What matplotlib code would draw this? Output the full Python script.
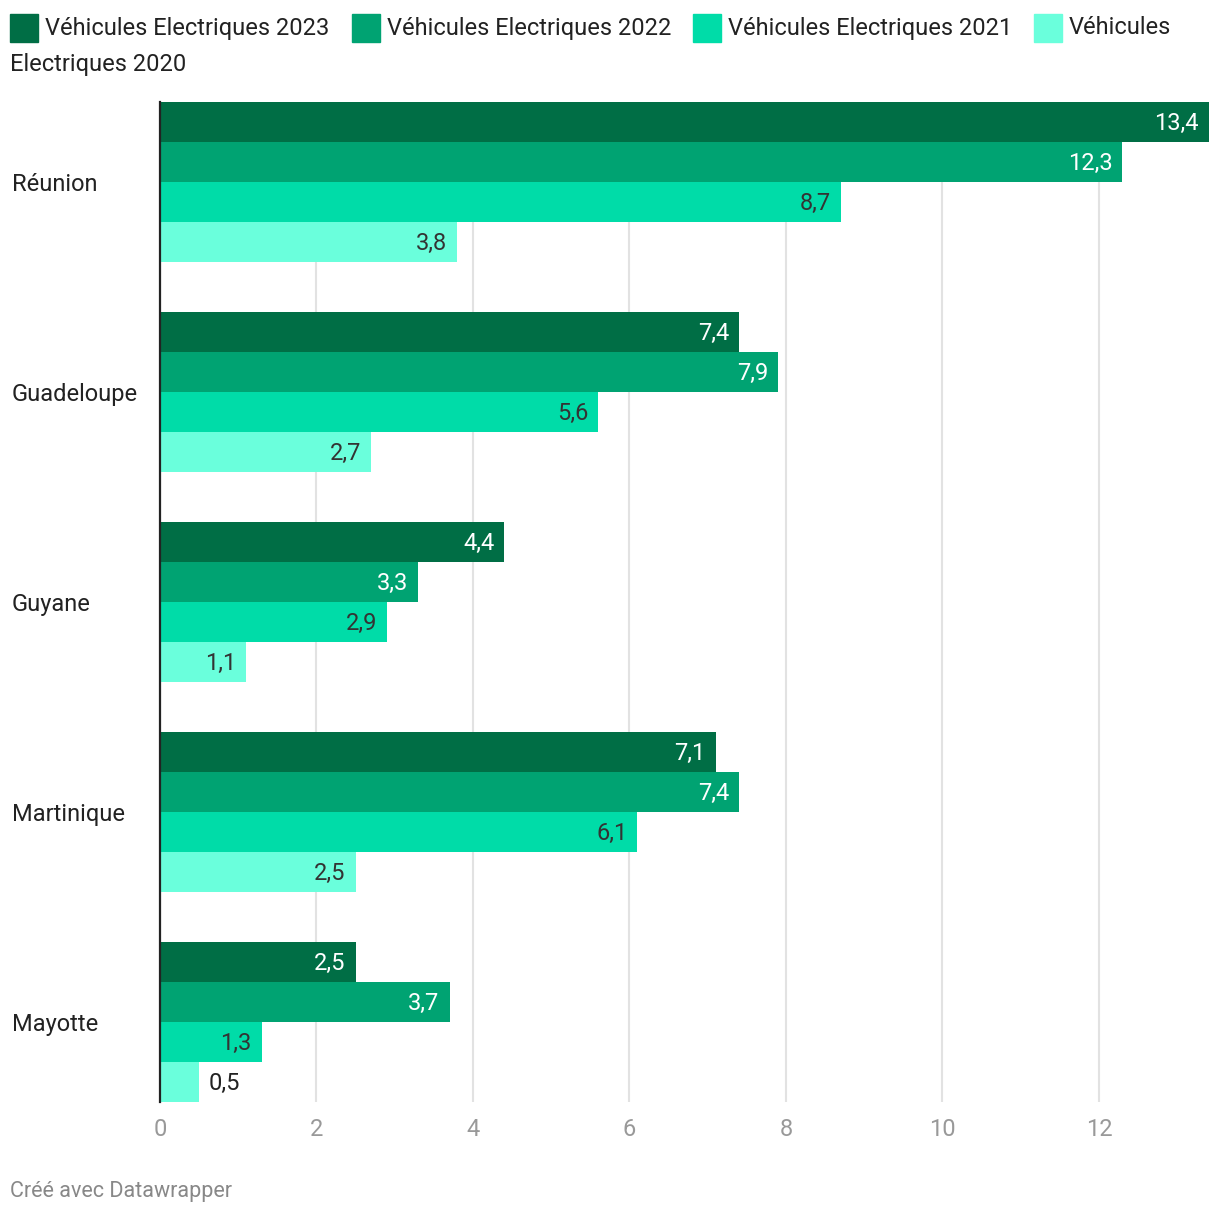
import matplotlib.pyplot as plt
from matplotlib.patches import Rectangle

# Données
regions = ['Réunion', 'Guadeloupe', 'Guyane', 'Martinique', 'Mayotte']
series = ['Véhicules Electriques 2023', 'Véhicules Electriques 2022',
          'Véhicules Electriques 2021', 'Véhicules Electriques 2020']
v2023 = [13.4, 7.4, 4.4, 7.1, 2.5]
v2022 = [12.3, 7.9, 3.3, 7.4, 3.7]
v2021 = [8.7, 5.6, 2.9, 6.1, 1.3]
v2020 = [3.8, 2.7, 1.1, 2.5, 0.5]
xticks = [0, 2, 4, 6, 8, 10, 12]

colors = ['#006e45', '#00a372', '#00dca8', '#6affdc']
text_colors = ['white', 'white', '#333333', '#333333']

plt.rcParams['font.family'] = ['Roboto', 'DejaVu Sans']
FS = 17

W, H = 1220, 1216
fig = plt.figure(figsize=(W / 100, H / 100), dpi=100)
ax = fig.add_axes([160 / W, 1 - 1102 / H, (1208.5 - 160) / W, 1000 / H])

group_step = 210
bar_h = 40
values = [v2023, v2022, v2021, v2020]
for j, vals in enumerate(values):
    for i, v in enumerate(vals):
        y = i * group_step + j * bar_h + bar_h / 2
        ax.barh(y, v, height=bar_h, color=colors[j], zorder=2)
        # étiquette à l'intérieur si la barre est assez longue
        if v >= 1.0:
            ax.annotate(f'{v:.1f}'.replace('.', ','), (v, y), xytext=(-10, -1.5),
                        textcoords='offset pixels', ha='right', va='center',
                        fontsize=FS, color=text_colors[j], zorder=3)
        else:
            ax.annotate(f'{v:.1f}'.replace('.', ','), (v, y), xytext=(10, -1.5),
                        textcoords='offset pixels', ha='left', va='center',
                        fontsize=FS, color='#222222', zorder=3)

ax.set_xlim(0, 13.4)
ax.set_ylim(1000, 0)
ax.set_xticks(xticks)
ax.set_xticklabels([str(t) for t in xticks], fontsize=FS, color='#999999')
ax.tick_params(axis='x', length=0, pad=11.5)
ax.set_yticks([i * group_step + 80 for i in range(len(regions))])
ax.set_yticklabels(regions, fontsize=FS, color='#222222')
ax.tick_params(axis='y', length=0, pad=0)
for lbl in ax.get_yticklabels():
    lbl.set_horizontalalignment('left')
    lbl.set_x(-148 / (1208.5 - 160))
ax.grid(axis='x', color='#e2e2e2', linewidth=1.5, zorder=0)
for s in ['top', 'right', 'bottom']:
    ax.spines[s].set_visible(False)
ax.spines['left'].set_color('#222222')
ax.spines['left'].set_linewidth(1.6)
ax.spines['left'].set_zorder(4)

# Légende
leg_x = [10, 352, 693, 1034]
for k, name in enumerate(series):
    fig.patches.append(Rectangle((leg_x[k] / W, 1 - 42 / H), 28 / W, 28 / H,
                                 transform=fig.transFigure, color=colors[k]))
    label = 'Véhicules' if k == 3 else name
    fig.text((leg_x[k] + 35) / W, 1 - 28 / H, label, fontsize=FS,
             color='#222222', va='center', ha='left')
fig.text(10 / W, 1 - 64 / H, 'Electriques 2020', fontsize=FS,
         color='#222222', va='center', ha='left')

fig.text(10 / W, 1 - 1191 / H, 'Créé avec Datawrapper', fontsize=15.5,
         color='#888888', va='center', ha='left')

fig.savefig('out.png', dpi=100)
